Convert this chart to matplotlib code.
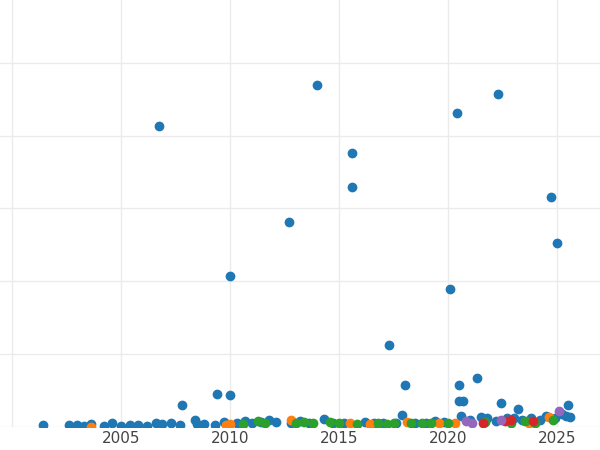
import matplotlib
matplotlib.use("Agg")
import matplotlib.pyplot as plt

# Outliers and low cluster (year, value) per colour series
blue_x = [2006.75, 2014.0, 2015.6, 2015.6, 2012.7, 2010.0, 2020.4, 2022.3, 2024.7, 2025.0,
          2020.1, 2017.3, 2018.0, 2020.5, 2021.3, 2009.4, 2010.0, 2007.8, 2020.5, 2020.7,
          2022.4, 2023.2, 2025.5,
          2001.4, 2002.6, 2003.0, 2003.3, 2003.6, 2004.2, 2004.6, 2005.0, 2005.4, 2005.8,
          2006.2, 2006.6, 2006.9, 2007.3, 2007.7, 2008.4, 2008.5, 2008.8, 2009.3, 2009.7,
          2010.3, 2010.7, 2011.0, 2011.4, 2011.8, 2012.1, 2012.8, 2013.2, 2013.6, 2014.3,
          2014.7, 2015.2, 2016.2, 2016.6, 2017.0, 2017.6, 2017.9, 2018.5, 2019.0, 2019.4,
          2019.8, 2020.6, 2021.0, 2021.5, 2021.8, 2022.2, 2022.7, 2023.0, 2023.4, 2023.8,
          2024.2, 2024.5, 2024.9, 2025.2, 2025.4, 2025.6]
blue_y = [4.13, 4.70, 3.76, 3.30, 2.82, 2.07, 4.31, 4.57, 3.16, 2.53,
          1.90, 1.13, 0.58, 0.58, 0.67, 0.45, 0.44, 0.30, 0.36, 0.36,
          0.33, 0.25, 0.30,
          0.03, 0.03, 0.03, 0.02, 0.04, 0.02, 0.06, 0.02, 0.03, 0.03,
          0.02, 0.06, 0.04, 0.05, 0.03, 0.10, 0.04, 0.04, 0.03, 0.07,
          0.06, 0.08, 0.06, 0.07, 0.09, 0.07, 0.06, 0.08, 0.05, 0.11,
          0.06, 0.05, 0.07, 0.06, 0.06, 0.05, 0.16, 0.06, 0.05, 0.08,
          0.07, 0.15, 0.10, 0.14, 0.12, 0.08, 0.12, 0.13, 0.10, 0.12,
          0.09, 0.15, 0.12, 0.18, 0.15, 0.14]
orange_x = [2003.6, 2009.8, 2010.0, 2012.8, 2015.5, 2016.4, 2018.1, 2019.6, 2020.3, 2023.7, 2024.6]
orange_y = [0.00, 0.03, 0.04, 0.09, 0.06, 0.04, 0.07, 0.06, 0.06, 0.05, 0.14]
green_x = [2010.6, 2011.3, 2011.6, 2013.0, 2013.4, 2013.8, 2014.6, 2015.0, 2015.8, 2016.8,
           2017.2, 2017.5, 2018.3, 2018.8, 2019.2, 2020.0, 2021.7, 2022.9, 2023.5, 2024.0, 2024.8]
green_y = [0.04, 0.08, 0.06, 0.06, 0.07, 0.05, 0.07, 0.05, 0.04, 0.05,
           0.04, 0.05, 0.06, 0.05, 0.05, 0.06, 0.07, 0.05, 0.08, 0.06, 0.10]
red_x = [2021.6, 2022.6, 2022.9, 2023.9]
red_y = [0.06, 0.08, 0.09, 0.08]
purple_x = [2020.8, 2021.1, 2022.4, 2025.1]
purple_y = [0.08, 0.06, 0.10, 0.22]

fig = plt.figure(figsize=(6, 4.5), dpi=100)
ax = fig.add_axes([0, 0.051, 1, 0.949])
ax.scatter(blue_x, blue_y, s=36, color="#1f77b4", zorder=3)
ax.scatter(orange_x, orange_y, s=36, color="#ff7f0e", zorder=4)
ax.scatter(green_x, green_y, s=36, color="#2ca02c", zorder=5)
ax.scatter(red_x, red_y, s=36, color="#d62728", zorder=6)
ax.scatter(purple_x, purple_y, s=36, color="#9467bd", zorder=6)

ax.set_xlim(1999.45, 2026.96)
ax.set_ylim(0, 5.86)
ax.set_xticks([2000, 2005, 2010, 2015, 2020, 2025])
ax.set_xticklabels(["", "2005", "2010", "2015", "2020", "2025"])
ax.set_yticks([0, 1, 2, 3, 4, 5])
ax.set_yticklabels([])
ax.grid(True, color="#ebebeb", linewidth=1)
ax.set_axisbelow(True)
for s in ax.spines.values():
    s.set_visible(False)
ax.tick_params(length=0, labelsize=11, labelcolor="#444444", pad=3)

fig.savefig("out.png")
